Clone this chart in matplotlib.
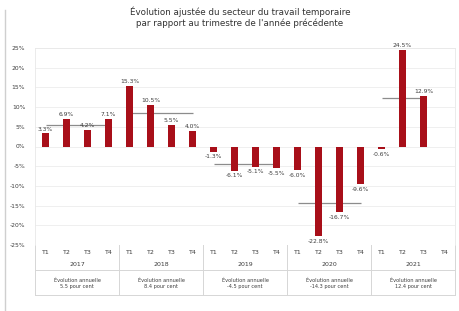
import numpy as np
import matplotlib.pyplot as plt
from matplotlib.lines import Line2D

# -------------------------
# Data
# -------------------------
years = ["2017", "2018", "2019", "2020", "2021"]
quarters = ["T1", "T2", "T3", "T4"]
values = [3.3, 6.9, 4.2, 7.1,
          15.3, 10.5, 5.5, 4.0,
          -1.3, -6.1, -5.1, -5.5,
          -6.0, -22.8, -16.7, -9.6,
          -0.6, 24.5, 12.9, np.nan]
annual = [5.5, 8.4, -4.5, -14.3, 12.4]
annual_text = ["5.5 pour cent", "8.4 pour cent", "-4.5 pour cent",
               "-14.3 pour cent", "12.4 pour cent"]
yticks = [25, 20, 15, 10, 5, 0, -5, -10, -15, -20, -25]

title = ("Évolution ajustée du secteur du travail temporaire\n"
         "par rapport au trimestre de l'année précédente")

BAR = "#a80f19"
GREY_TXT = "#3c3c3c"

W, H = 459, 311
fig = plt.figure(figsize=(W / 100, H / 100), dpi=100)
fig.patch.set_facecolor("white")

# plot area in pixels: x 35..455, y 48..245
ax = fig.add_axes([35 / W, 1 - 245 / H, 420 / W, 197 / H])

x = np.arange(len(values))
vals = np.array(values, dtype=float)
ok = ~np.isnan(vals)
ax.bar(x[ok], vals[ok], width=0.34, color=BAR, zorder=3)

# value labels
for xi, v in zip(x[ok], vals[ok]):
    off = 0.5 if v >= 0 else -0.7
    ax.text(xi, v + off, f"{v:.1f}%", ha="center",
            va="bottom" if v >= 0 else "top",
            fontsize=4.3, color=GREY_TXT, zorder=4)

# annual average lines
for i, a in enumerate(annual):
    start = i * 4
    end = start + (2 if i == len(annual) - 1 else 3)
    ax.hlines(a, start, end, color="#8c8c8c", lw=0.9, zorder=2)

ax.set_xlim(-0.5, len(values) - 0.5)
ax.set_ylim(-25, 25)
ax.set_yticks(yticks)
ax.set_yticklabels([f"{t}%" for t in yticks], fontsize=4.3, color=GREY_TXT)
ax.tick_params(axis="y", length=0, pad=7)
ax.set_xticks([])
ax.grid(axis="y", color="#ececec", lw=0.6, zorder=0)
for s in ax.spines.values():
    s.set_color("#e8e8e8")
    s.set_linewidth(0.6)
ax.spines["bottom"].set_visible(False)


# -------------------------
# Table under the plot
# -------------------------
def ay(py):
    # pixel y (from top) -> axes fraction
    return (245 - py) / 197


tr = ax.get_xaxis_transform()
for i, q in enumerate(x):
    ax.text(q, ay(252), quarters[i % 4], transform=tr, ha="center",
            va="center", fontsize=4.5, color=GREY_TXT, clip_on=False)

for i, yr in enumerate(years):
    mid = i * 4 + 1.5
    ax.text(mid, ay(264), yr, transform=tr, ha="center", va="center",
            fontsize=4.5, color=GREY_TXT, clip_on=False)
    ax.text(mid, ay(283.5), "Évolution annuelle\n" + annual_text[i],
            transform=tr, ha="center", va="center", fontsize=3.6,
            color=GREY_TXT, linespacing=1.3, clip_on=False)

line_kw = dict(color="#d6d6d6", lw=0.7, transform=tr, clip_on=False)
for b in np.arange(0, len(values) + 1, 4) - 0.5:
    ax.add_line(Line2D([b, b], [ay(245), ay(295)], **line_kw))
for py in (270, 295):
    ax.add_line(Line2D([-0.5, len(values) - 0.5], [ay(py), ay(py)], **line_kw))

# title and left page border
fig.text(240 / W, 1 - 17 / H, title, ha="center", va="center",
         fontsize=6.3, color="#333333", linespacing=1.25)
fig.add_artist(Line2D([5 / W, 5 / W], [0, 1 - 10 / H],
                      transform=fig.transFigure, color="#cfcfcf", lw=1.0))

fig.savefig("out.png", dpi=100)
